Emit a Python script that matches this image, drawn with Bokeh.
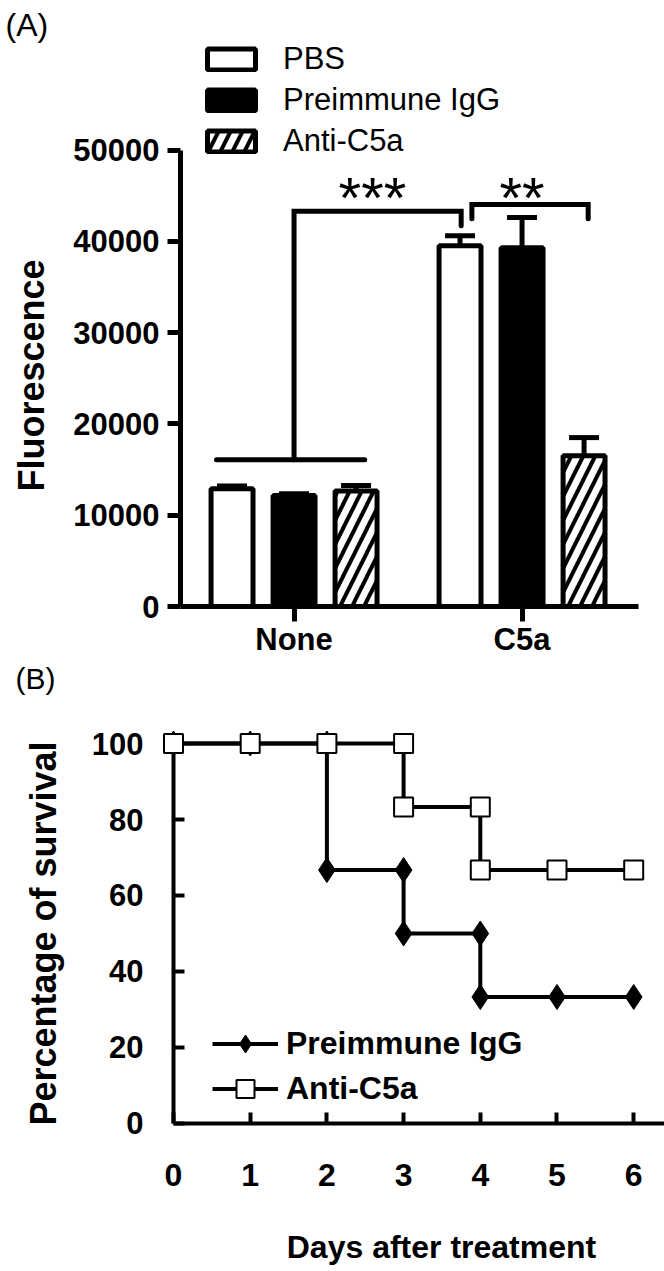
import numpy as np
from bokeh.plotting import figure
from bokeh.layouts import column
from bokeh.models import (ColumnDataSource, FixedTicker, Whisker, TeeHead, Legend,
                          LegendItem, Label, Range1d)
from bokeh.core.properties import value
from bokeh.embed import file_html
from bokeh.resources import INLINE

FONT = "Liberation Sans"

# ---------------- Panel A data ----------------
groups = ["None", "C5a"]
treatments = ["PBS", "Preimmune IgG", "Anti-C5a"]
pbs_mean = [12900, 39500]
igg_mean = [12150, 39300]
anti_mean = [12650, 16500]
pbs_err = [300, 1100]
igg_err = [200, 3300]
anti_err = [600, 2000]
fluor_ticks = [0, 10000, 20000, 30000, 40000, 50000]
sig_marks = ["***", "**"]

# ---------------- Panel B data ----------------
day_ticks = [0, 1, 2, 3, 4, 5, 6]
surv_ticks = [0, 20, 40, 60, 80, 100]
igg_days = [0, 1, 2, 2, 3, 3, 4, 4, 5, 6]
igg_surv = [100, 100, 100, 66.7, 66.7, 50, 50, 33.3, 33.3, 33.3]
anti_days = [0, 1, 2, 3, 3, 4, 4, 5, 6]
anti_surv = [100, 100, 100, 100, 83.3, 83.3, 66.7, 66.7, 66.7]


def style_axis(ax, lw, size):
    ax.axis_line_width = lw
    ax.axis_line_color = "black"
    ax.major_tick_line_width = lw
    ax.major_tick_line_color = "black"
    ax.minor_tick_line_color = None
    ax.major_label_text_font = FONT
    ax.major_label_text_font_size = size
    ax.major_label_text_font_style = "bold"
    ax.major_label_text_color = "black"


# ================= Panel A =================
pA = figure(width=664, height=658, x_range=Range1d(-0.2875, 2.6248),
            y_range=Range1d(-5695, 66375),
            output_backend="svg", toolbar_location=None,
            min_border_left=0, min_border_right=0, min_border_top=0, min_border_bottom=0)
pA.xgrid.visible = False
pA.ygrid.visible = False
pA.outline_line_color = None

x_groups = np.arange(1, len(groups) + 1)
offsets = [-0.272, 0.0, 0.272]
styles = [dict(fill_color="white"),
          dict(fill_color="black"),
          dict(fill_color="white", hatch_pattern="/", hatch_color="black",
               hatch_weight=4, hatch_scale=24)]
series = [(pbs_mean, pbs_err), (igg_mean, igg_err), (anti_mean, anti_err)]

bar_renderers = []
for (means, errs), off, style in zip(series, offsets, styles):
    m = np.array(means, dtype=float)
    e = np.array(errs, dtype=float)
    src = ColumnDataSource(dict(x=x_groups + off, top=m, upper=m + e, lower=m))
    wh = Whisker(source=src, base="x", upper="upper", lower="lower", dimension="height",
                 level="underlay", line_width=5, line_color="black",
                 upper_head=TeeHead(size=30, line_width=5, line_color="black"),
                 lower_head=None)
    pA.add_layout(wh)
    r = pA.vbar(x="x", top="top", bottom=0, width=0.184, source=src,
                line_color="black", line_width=5, **style)
    bar_renderers.append(r)

# significance brackets
pA.line([0.66, 1.31], [16070, 16070], line_width=5, line_color="black", line_cap="round")
pA.line([1.0, 1.0, 1.733, 1.733], [16070, 43300, 43300, 41700], line_width=5,
        line_color="black", line_join="miter", line_cap="round")
pA.line([1.78, 1.78, 2.29, 2.29], [42460, 44030, 44030, 42460], line_width=5,
        line_color="black", line_join="miter", line_cap="round")
pA.text(x=[1.344, 2.0], y=[44800, 44800], text=sig_marks, text_font=value(FONT),
        text_font_size="58px", text_align="center", text_baseline="middle",
        text_color="black")

# axes (placed at data locations)
pA.xaxis.fixed_location = 0
pA.xaxis.bounds = (0.502, 2.511)
pA.xaxis.ticker = FixedTicker(ticks=list(x_groups))
pA.xaxis.major_label_overrides = {int(x): g for x, g in zip(x_groups, groups)}
pA.xaxis.major_tick_in = 0
pA.xaxis.major_tick_out = 15
pA.xaxis.major_label_standoff = 0
pA.yaxis.fixed_location = 0.502
pA.yaxis.bounds = (0, 50000)
pA.yaxis.ticker = FixedTicker(ticks=fluor_ticks)
pA.yaxis.major_tick_in = 0
pA.yaxis.major_tick_out = 13
pA.yaxis.major_label_standoff = 8
style_axis(pA.xaxis, 5, "31px")
style_axis(pA.yaxis, 5, "31px")

legA = Legend(items=[LegendItem(label=t, renderers=[r]) for t, r in zip(treatments, bar_renderers)],
              location=(201, 499), glyph_width=60, glyph_height=26, spacing=5,
              label_standoff=22, padding=0, margin=0, border_line_color=None,
              background_fill_alpha=0, label_text_font=FONT, label_text_font_size="31px",
              label_text_color="black")
pA.add_layout(legA)

pA.add_layout(Label(x=-0.2655, y=63669, text="(A)", text_font=FONT, text_font_size="32px",
                    text_baseline="middle", text_color="black"))
pA.add_layout(Label(x=-0.1537, y=25301, angle=np.pi / 2, text="Fluorescence",
                    text_font=FONT, text_font_size="36px", text_font_style="bold",
                    text_align="center", text_baseline="middle", text_color="black"))

# ================= Panel B =================
pB = figure(width=664, height=613, x_range=Range1d(-2.2555, 6.4016),
            y_range=Range1d(-38.95, 122.37),
            output_backend="svg", toolbar_location=None,
            min_border_left=0, min_border_right=0, min_border_top=0, min_border_bottom=0)
pB.xgrid.visible = False
pB.ygrid.visible = False
pB.outline_line_color = None

l1 = pB.line(igg_days, igg_surv, line_width=4, line_color="black")
s1 = pB.scatter(igg_days, igg_surv, marker="diamond", size=25, fill_color="black",
                line_color="black", line_width=1)
l2 = pB.line(anti_days, anti_surv, line_width=4, line_color="black")
s2 = pB.scatter(anti_days, anti_surv, marker="square", size=19, fill_color="white",
                line_color="black", line_width=2)

pB.xaxis.fixed_location = 0
pB.xaxis.bounds = (0, 6.4016)
pB.xaxis.ticker = FixedTicker(ticks=day_ticks)
pB.xaxis.major_tick_in = 11
pB.xaxis.major_tick_out = 0
pB.xaxis.major_label_standoff = 41
pB.yaxis.fixed_location = 0
pB.yaxis.bounds = (0, 100)
pB.yaxis.level = "underlay"
pB.yaxis.ticker = FixedTicker(ticks=surv_ticks)
pB.yaxis.major_tick_in = 11
pB.yaxis.major_tick_out = 0
pB.yaxis.major_label_standoff = 30
style_axis(pB.xaxis, 4, "32px")
style_axis(pB.yaxis, 4, "31px")

legB = Legend(items=[LegendItem(label="Preimmune IgG", renderers=[l1, s1]),
                     LegendItem(label="Anti-C5a", renderers=[l2, s2])],
              location=(212, 160), glyph_width=66, glyph_height=45, spacing=0,
              label_standoff=8, padding=0, margin=0, border_line_color=None,
              background_fill_alpha=0, label_text_font=FONT, label_text_font_size="32px",
              label_text_font_style="bold", label_text_color="black")
pB.add_layout(legB)

pB.add_layout(Label(x=-2.06, y=117.2, text="(B)", text_font=FONT, text_font_size="30px",
                    text_baseline="middle", text_color="black"))
pB.add_layout(Label(x=-1.701, y=50, angle=np.pi / 2, text="Percentage of survival",
                    text_font=FONT, text_font_size="36px", text_font_style="bold",
                    text_align="center", text_baseline="middle", text_color="black"))
pB.add_layout(Label(x=3.494, y=-32.4, text="Days after treatment", text_font=FONT,
                    text_font_size="32px", text_font_style="bold", text_align="center",
                    text_baseline="middle", text_color="black"))

layout = column(pA, pB)
open("out.html", "w").write(file_html(layout, INLINE))
